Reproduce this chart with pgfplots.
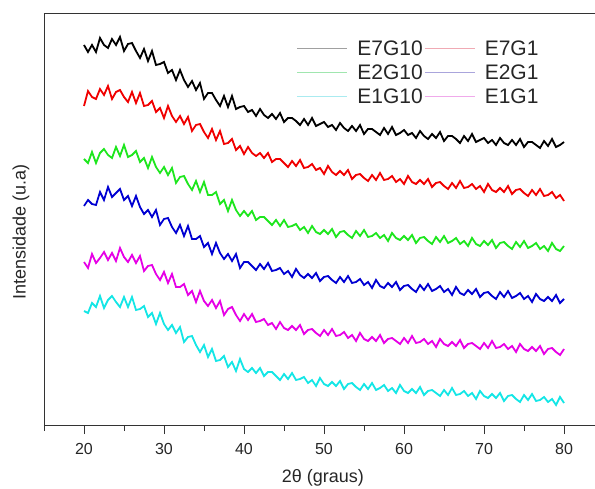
\documentclass[border=0pt]{standalone}
\usepackage{fontspec}
\setmainfont{Liberation Sans}
\usepackage{pgfplots}
\usepackage{pgfplotstable}
\pgfplotsset{compat=1.18}
\definecolor{cK}{RGB}{0,0,0}
\definecolor{cR}{RGB}{240,0,0}
\definecolor{cG}{RGB}{30,230,30}
\definecolor{cB}{RGB}{0,0,210}
\definecolor{cM}{RGB}{230,0,230}
\definecolor{cC}{RGB}{20,230,230}
\definecolor{lK}{RGB}{160,160,160}
\definecolor{lR}{RGB}{240,170,180}
\definecolor{lG}{RGB}{160,230,175}
\definecolor{lB}{RGB}{170,165,220}
\definecolor{lC}{RGB}{170,235,240}
\definecolor{lM}{RGB}{240,170,235}
\pgfplotstableread{
x k r g b m c
20 385 324 271 224 168 119
20.5 378 339 267 230 162 117
21 385 333 278 226 176 127
21.5 378 331 267 225 167 123
22 392 341 277 238 172 134
22.5 385 335 281 230 178 122
23 382 344 275 243 170 130
23.5 391 331 272 233 177 134
24 385 338 283 237 169 128
24.5 393 340 274 241 182 123
25 379 333 285 230 173 133
25.5 386 328 273 234 168 123
26 387 338 275 224 175 133
26.5 379 327 279 234 167 120
27 372 337 268 223 174 121
27.5 381 324 272 216 159 124
28 369 325 262 220 164 113
28.5 379 329 273 213 165 117
29 365 318 263 220 156 106
29.5 366 322 257 205 150 117
30 368 312 263 211 158 106
30.5 357 324 255 212 147 100
31 360 314 262 203 156 105
31.5 350 308 247 197 143 97
32 360 314 253 205 143 103
32.5 350 306 254 194 146 88
33 343 313 246 204 135 93
33.5 349 299 240 191 139 94
34 340 305 249 191 128 85
34.5 347 306 238 194 139 78
35 331 298 248 183 129 85
35.5 337 292 235 187 124 73
36 337 301 235 176 130 81
36.5 330 290 238 187 122 69
37 324 299 226 177 129 70
37.5 334 286 230 171 115 74
38 323 287 219 176 121 63
38.5 334 291 230 169 123 68
39 321 280 220 176 115 59
39.5 323 284 214 162 109 71
40 324 276 219 168 116 61
40.5 318 283 214 168 110 58
41 320 277 219 164 116 62
41.5 314 274 210 160 108 57
42 321 277 213 166 109 62
42.5 315 272 213 161 111 54
43 312 277 209 167 105 58
43.5 316 268 205 159 107 58
44 311 271 210 160 101 54
44.5 317 271 204 162 108 50
45 308 267 210 156 102 56
45.5 312 263 203 159 100 51
46 312 269 204 153 104 57
46.5 309 264 206 161 100 50
47 305 270 200 155 105 51
47.5 311 262 203 152 96 53
48 305 263 197 156 100 47
48.5 312 266 204 152 101 50
49 304 260 198 157 97 44
49.5 306 262 196 149 94 52
50 308 256 200 153 100 46
50.5 303 264 196 154 95 44
51 305 258 201 150 101 48
51.5 300 255 193 147 94 44
52 307 259 198 153 95 49
52.5 302 255 199 148 98 41
53 299 260 195 154 92 46
53.5 304 251 192 147 95 47
54 299 255 199 148 89 43
54.5 305 256 194 151 97 40
55 296 252 200 145 91 46
55.5 301 249 193 148 89 41
56 301 255 194 142 93 47
56.5 298 250 197 150 89 40
57 295 257 192 144 95 42
57.5 302 250 195 142 87 45
58 296 251 189 147 91 39
58.5 303 254 197 143 92 42
59 295 248 192 148 89 37
59.5 297 251 190 140 86 45
60 300 246 194 144 92 39
60.5 295 254 190 145 87 37
61 297 248 195 141 94 41
61.5 292 246 187 138 87 37
62 299 250 192 145 88 43
62.5 294 246 193 140 91 35
63 291 251 189 146 86 39
63.5 296 243 186 139 89 40
64 292 247 193 141 83 37
64.5 298 248 188 144 91 34
65 289 244 194 138 86 40
65.5 294 241 187 141 84 35
66 294 247 189 135 88 42
66.5 291 242 192 143 84 35
67 287 249 186 137 90 36
67.5 294 242 189 135 82 39
68 289 243 184 140 86 34
68.5 296 246 192 136 87 37
69 288 241 186 141 84 31
69.5 290 244 184 133 81 39
70 292 238 189 137 87 34
70.5 287 246 185 138 82 32
71 290 240 190 134 89 36
71.5 285 238 182 131 82 32
72 292 242 187 138 83 37
72.5 287 238 188 133 86 29
73 285 244 184 139 81 34
73.5 290 236 181 132 84 35
74 285 240 188 134 78 31
74.5 291 241 183 137 86 28
75 283 237 189 131 81 35
75.5 288 234 182 134 79 30
76 288 240 184 128 83 36
76.5 285 235 187 136 79 29
77 282 241 181 131 84 30
77.5 289 234 184 129 76 33
78 284 235 179 133 81 28
78.5 291 238 187 129 82 31
79 283 232 181 135 78 25
79.5 285 235 179 127 75 33
80 288 229 184 131 81 27
}\xrd
\begin{document}
\begin{tikzpicture}
\begin{axis}[
  scale only axis,
  width=551pt, height=412pt,
  xmin=15, xmax=83.875,
  ymin=5, ymax=417,
  axis x line=box,
  axis y line*=left,
  axis line style={line width=0.8pt, black!80},
  xtick={20,30,...,80},
  minor xtick={15,25,...,85},
  ytick=\empty,
  xtick pos=bottom,
  tick align=outside,
  major tick length=9pt,
  minor tick length=6pt,
  every tick/.style={line width=0.8pt, black!80},
  /pgf/number format/assume math mode=true,
  xticklabel style={font=\fontsize{16}{16}\selectfont, text=black!85, yshift=-6pt},
  xlabel={2θ (graus)},
  ylabel={Intensidade (u.a)},
  xlabel style={font=\fontsize{18}{18}\selectfont, text=black!85, at={(axis description cs:0.506,-0.128)}, anchor=center},
  ylabel style={font=\fontsize{18}{18}\selectfont, text=black!85, at={(axis description cs:-0.0417,0.468)}, anchor=center},
  legend columns=2,
  legend style={draw=none, fill=none, at={(0.459,0.937)}, anchor=north west,
    font=\fontsize{21}{21}\selectfont, inner sep=0pt, outer sep=0pt,
    nodes={inner sep=1.5pt, text=black!85}, row sep=5pt,
    /tikz/every odd column/.append style={column sep=8pt}},
  legend image code/.code={\draw[#1, line width=1pt] (0pt,0pt) -- (50pt,0pt);},
]
\addplot[cK, line width=1.8pt, forget plot] table[x=x, y=k] {\xrd};
\addplot[cR, line width=1.8pt, forget plot] table[x=x, y=r] {\xrd};
\addplot[cG, line width=1.8pt, forget plot] table[x=x, y=g] {\xrd};
\addplot[cB, line width=1.8pt, forget plot] table[x=x, y=b] {\xrd};
\addplot[cM, line width=1.8pt, forget plot] table[x=x, y=m] {\xrd};
\addplot[cC, line width=1.8pt, forget plot] table[x=x, y=c] {\xrd};
\addlegendimage{lK}
\addlegendentry{E7G10}
\addlegendimage{lR}
\addlegendentry{E7G1}
\addlegendimage{lG}
\addlegendentry{E2G10}
\addlegendimage{lB}
\addlegendentry{E2G1}
\addlegendimage{lC}
\addlegendentry{E1G10}
\addlegendimage{lM}
\addlegendentry{E1G1}
\end{axis}
\pgfresetboundingbox
\path[use as bounding box] ([shift={(-44pt,-63pt)}]current axis.south west) rectangle ([shift={(0pt,13pt)}]current axis.north east);
\end{tikzpicture}
\end{document}
